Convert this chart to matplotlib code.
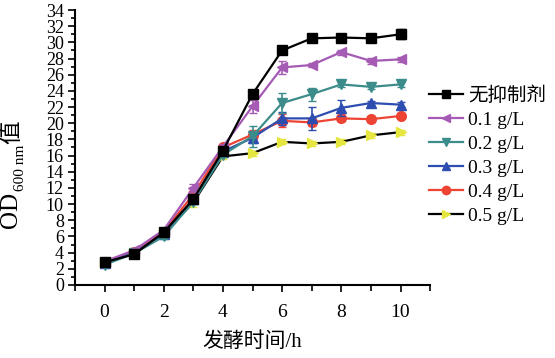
import matplotlib
matplotlib.use("Agg")
import matplotlib.pyplot as plt
from matplotlib.ticker import MultipleLocator
from matplotlib.lines import Line2D

plt.rcParams['font.family'] = ['Liberation Serif', 'Noto Sans CJK SC']

# fermentation time (h)
hours = [0, 1, 2, 3, 4, 5, 6, 7, 8, 9, 10]

labels = ['无抑制剂', '0.1 g/L', '0.2 g/L', '0.3 g/L', '0.4 g/L', '0.5 g/L']

ctrl = [2.8, 3.8, 6.5, 10.6, 16.6, 23.6, 29.0, 30.5, 30.6, 30.5, 31.0]
g01 = [2.9, 4.3, 6.8, 12.0, 17.1, 22.1, 26.9, 27.2, 28.8, 27.7, 27.9]
g02 = [2.5, 3.9, 6.0, 10.3, 16.1, 18.4, 22.5, 23.6, 24.8, 24.5, 24.8]
g03 = [2.7, 4.0, 6.3, 10.6, 16.5, 18.2, 20.6, 20.6, 21.9, 22.5, 22.3]
g04 = [2.9, 4.1, 6.6, 11.2, 17.0, 18.6, 20.3, 20.1, 20.6, 20.5, 20.9]
g05 = [2.7, 3.9, 6.4, 10.2, 15.9, 16.3, 17.7, 17.5, 17.7, 18.5, 18.9]

ctrl_err = [0.3, 0.2, 0.2, 0.3, 0.3, 0.3, 0.3, 0.3, 0.3, 0.3, 0.6]
g01_err = [0.3, 0.2, 0.3, 0.5, 0.3, 0.8, 0.8, 0.3, 0.3, 0.4, 0.3]
g02_err = [0.3, 0.2, 0.3, 0.3, 0.3, 1.3, 1.2, 0.8, 0.3, 0.3, 0.3]
g03_err = [0.3, 0.2, 0.3, 0.3, 0.3, 0.6, 0.8, 1.4, 1.0, 0.3, 0.3]
g04_err = [0.3, 0.2, 0.3, 0.3, 0.3, 0.6, 0.8, 0.5, 0.3, 0.3, 0.3]
g05_err = [0.3, 0.2, 0.3, 0.5, 0.3, 0.3, 0.3, 0.3, 0.3, 0.3, 0.3]

series = [ctrl, g01, g02, g03, g04, g05]
errors = [ctrl_err, g01_err, g02_err, g03_err, g04_err, g05_err]
markers = ['s', '<', 'v', '^', 'o', '>']
line_colors = ['black', '#A55AB4', '#3C8C8C', '#2E4DB0', '#EE4433', 'black']
face_colors = ['black', '#A55AB4', '#3C8C8C', '#2E4DB0', '#EE4433', '#E6E640']

fig = plt.figure(figsize=(5.55, 3.58), dpi=100)
ax = fig.add_axes([0.135, 0.204, 0.640, 0.768])

for i in [5, 4, 3, 2, 1, 0]:
    ax.errorbar(hours, series[i], yerr=errors[i], color=line_colors[i],
                ecolor=face_colors[i], elinewidth=1.2, capsize=3,
                marker=markers[i], markersize=7, markerfacecolor=face_colors[i],
                markeredgecolor=face_colors[i], linewidth=1.6, zorder=3 + (5 - i))

ax.set_xlim(-1, 11)
ax.set_ylim(0, 34)
ax.xaxis.set_major_locator(MultipleLocator(2))
ax.xaxis.set_minor_locator(MultipleLocator(1))
ax.yaxis.set_major_locator(MultipleLocator(2))
ax.yaxis.set_minor_locator(MultipleLocator(1))
ax.tick_params(axis='x', which='major', length=5, width=1.2, labelsize=14, pad=9)
ax.tick_params(axis='x', which='minor', length=4, width=1.2)
ax.tick_params(axis='y', which='major', length=5, width=1.2, labelsize=13, pad=3)
ax.tick_params(axis='y', which='minor', length=3, width=1.2)
ax.spines['top'].set_visible(False)
ax.spines['right'].set_visible(False)
ax.spines['left'].set_linewidth(1.5)
ax.spines['bottom'].set_linewidth(1.5)

ax.set_xlabel('发酵时间/h', fontsize=15, labelpad=8)

# y label: OD with subscript 600 nm and 值, stacked as rotated pieces
fig.canvas.draw()
r = fig.canvas.get_renderer()
H = fig.bbox.height
t1 = fig.text(11 / 555, (358 - 228) / 358, 'OD', rotation=90, fontsize=18,
              ha='center', va='bottom')
b1 = t1.get_window_extent(r)
t2 = fig.text(21 / 555, (b1.y1 + 1) / H, '600 nm', rotation=90, fontsize=11,
              ha='center', va='bottom')
b2 = t2.get_window_extent(r)
fig.text(12 / 555, (b2.y1 + 1) / H, '值', rotation=90, fontsize=17,
         ha='center', va='bottom', fontweight='light')

handles = [Line2D([], [], color=line_colors[i], marker=markers[i], markersize=6,
                  markerfacecolor=face_colors[i], markeredgecolor=face_colors[i],
                  linewidth=1.6) for i in range(6)]
fig.legend(handles, labels, loc='upper left', bbox_to_anchor=(429 / 555, (358 - 86) / 358),
           frameon=False, fontsize=14, handlelength=1.75, handletextpad=0.25,
           labelspacing=0.33, borderaxespad=0, borderpad=0)

fig.savefig('out.png', dpi=100)
